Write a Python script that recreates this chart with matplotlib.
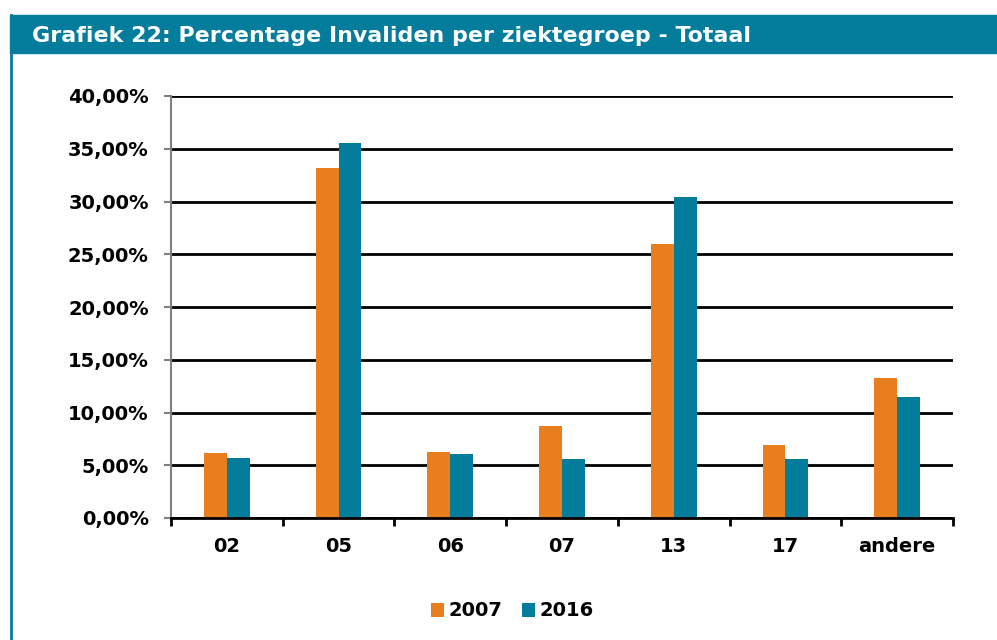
import matplotlib.pyplot as plt
import numpy as np
from matplotlib.patches import Rectangle
from matplotlib.lines import Line2D

# Data
categories = ["02", "05", "06", "07", "13", "17", "andere"]
values_2007 = [6.13, 33.2, 6.22, 8.72, 26.0, 6.92, 13.27]
values_2016 = [5.66, 35.5, 6.06, 5.62, 30.4, 5.59, 11.47]

orange = "#E87E1E"
teal = "#047C9C"

plt.rcParams["font.family"] = ["DejaVu Sans"]

fig = plt.figure(figsize=(9.97, 6.4), dpi=100)
ax = fig.add_axes([171 / 997, 1 - 518 / 640, (953 - 171) / 997, (518 - 96) / 640])

x = np.arange(len(categories))
w = 0.205
ax.bar(x - w / 2, values_2007, w, color=orange, label="2007", zorder=3)
ax.bar(x + w / 2, values_2016, w, color=teal, label="2016", zorder=3)

ax.set_ylim(0, 40)
ax.set_xlim(-0.5, len(categories) - 0.5)
ax.set_yticks(np.arange(0, 41, 5))
ax.set_yticklabels(["{:.2f}%".format(v).replace(".", ",") for v in np.arange(0, 41, 5)],
                   fontsize=14, fontweight="bold")
ax.yaxis.grid(True, color="black", linewidth=2, zorder=0)

# category boundaries as major ticks, labels on minor ticks
ax.set_xticks(np.arange(-0.5, len(categories), 1))
ax.set_xticklabels([])
ax.set_xticks(x, minor=True)
ax.set_xticklabels(categories, minor=True, fontsize=14, fontweight="bold")
ax.tick_params(axis="x", which="minor", length=0, pad=14)
ax.tick_params(axis="x", which="major", length=6, width=2, color="black")
ax.tick_params(axis="y", length=5, width=1.5, color="#808080", pad=11)

for s in ["top", "right"]:
    ax.spines[s].set_visible(False)
ax.spines["left"].set_color("#808080")
ax.spines["left"].set_linewidth(1.5)
ax.spines["bottom"].set_color("black")
ax.spines["bottom"].set_linewidth(2)
ax.spines["bottom"].set_zorder(4)

ax.legend(loc="center", bbox_to_anchor=(512 / 997, 1 - 611 / 640), bbox_transform=fig.transFigure,
          ncol=2, frameon=False, prop={"size": 14, "weight": "bold"},
          handlelength=0.7, handleheight=0.7, handletextpad=0.2, columnspacing=1.0)

# title bar and frame
fig.patches.append(Rectangle((10 / 997, 1 - 53 / 640), 987 / 997, 38 / 640,
                             transform=fig.transFigure, color=teal, zorder=0))
fig.lines.append(Line2D([11 / 997, 11 / 997], [0, 1 - 15 / 640], transform=fig.transFigure,
                        color=teal, linewidth=2))
fig.text(32 / 997, 1 - 36 / 640, "Grafiek 22: Percentage Invaliden per ziektegroep - Totaal",
         color="white", fontsize=15.9, fontweight="bold", va="center", ha="left")

fig.savefig("out.png", dpi=100)
